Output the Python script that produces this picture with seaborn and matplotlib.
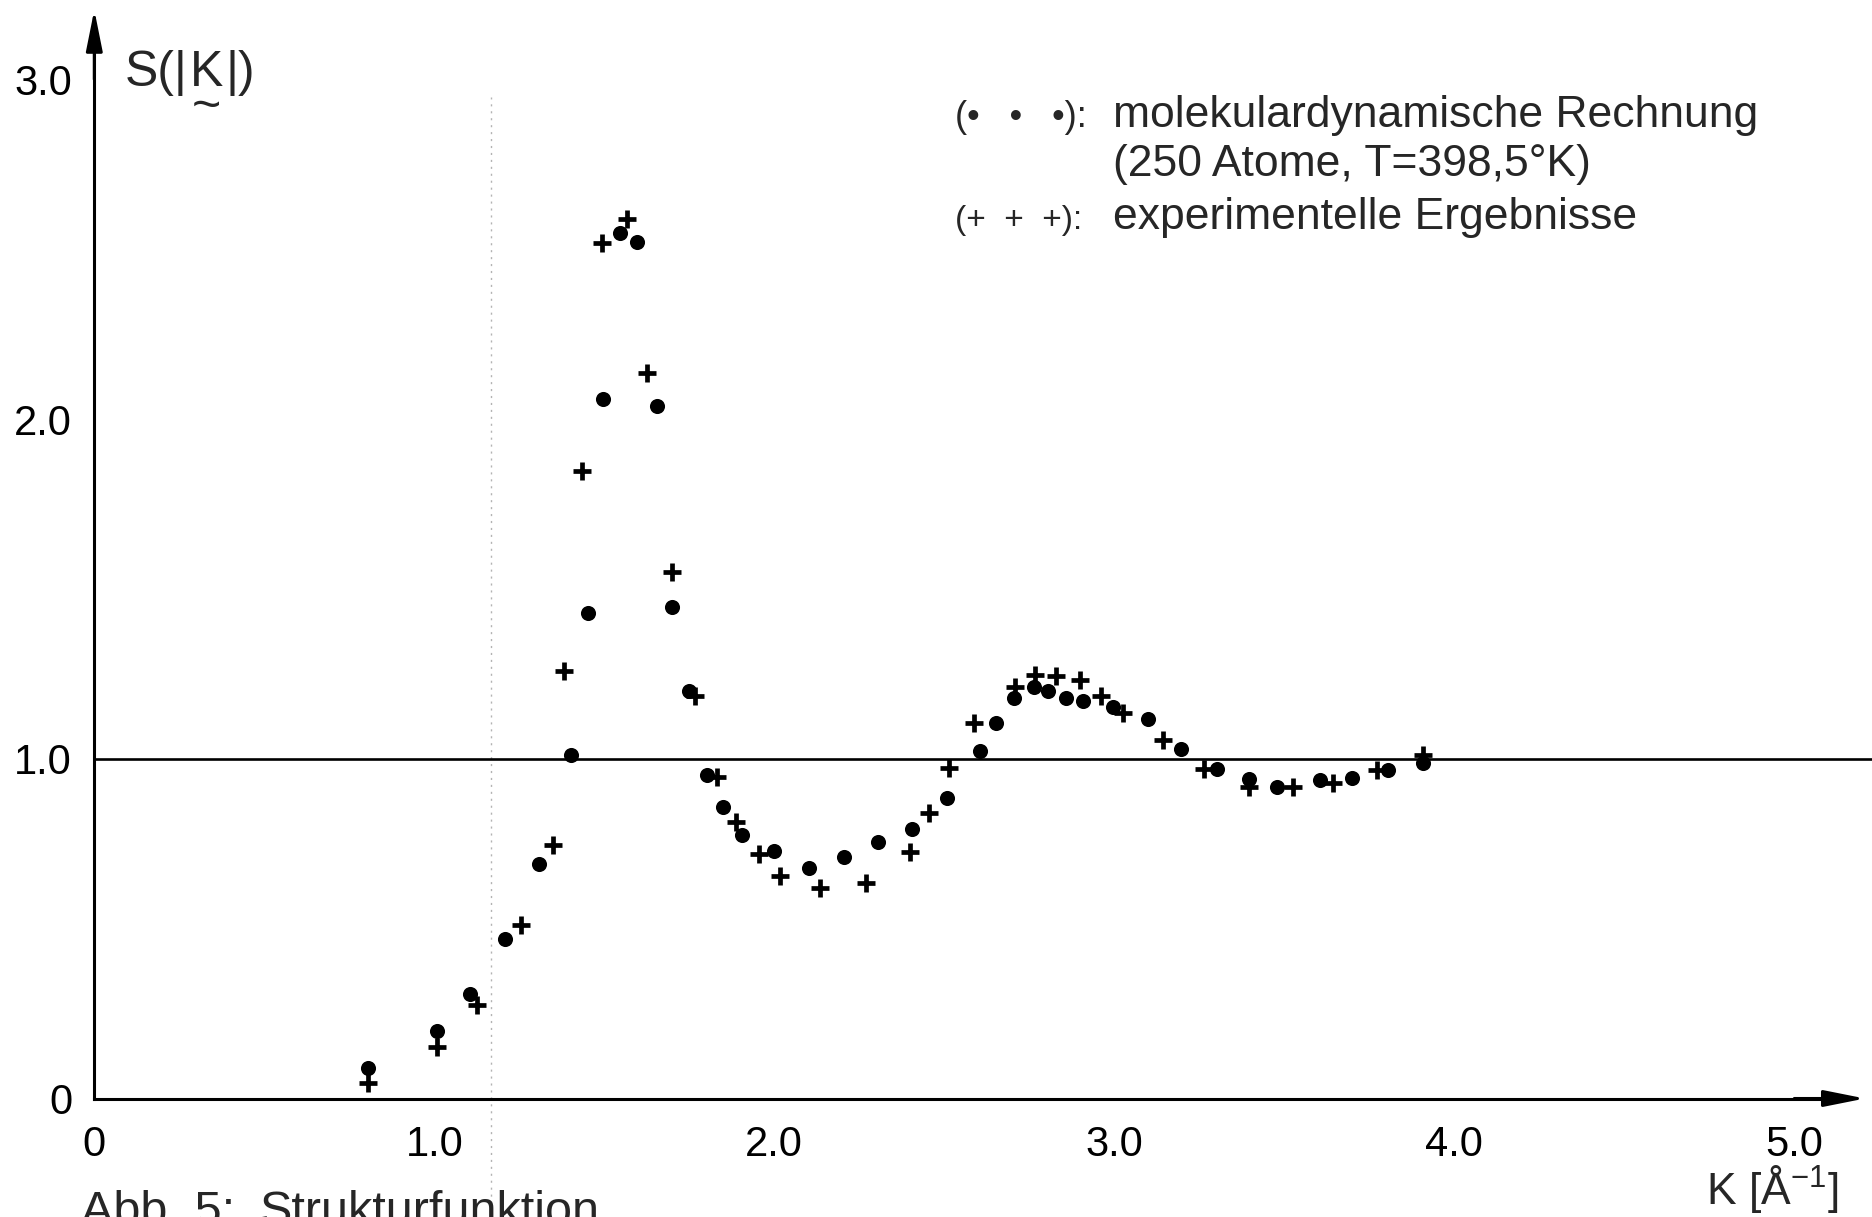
import matplotlib
matplotlib.use("Agg")
import matplotlib.pyplot as plt
import pandas as pd
import seaborn as sns

# Structure function S(|K|): molecular dynamics (250 atoms, T = 398.5 K)
k_md = [0.806, 1.007, 1.105, 1.209, 1.307, 1.401, 1.453, 1.495, 1.546, 1.595,
        1.654, 1.700, 1.750, 1.803, 1.850, 1.904, 2.000, 2.103, 2.206, 2.304,
        2.406, 2.507, 2.605, 2.652, 2.705, 2.763, 2.806, 2.857, 2.909, 2.997,
        3.100, 3.197, 3.301, 3.397, 3.478, 3.605, 3.700, 3.806, 3.907]
s_md = [0.091, 0.200, 0.308, 0.469, 0.691, 1.012, 1.430, 2.058, 2.549, 2.520,
        2.039, 1.446, 1.200, 0.952, 0.857, 0.776, 0.729, 0.679, 0.710, 0.754,
        0.792, 0.884, 1.024, 1.105, 1.178, 1.212, 1.200, 1.178, 1.171, 1.152,
        1.117, 1.029, 0.969, 0.940, 0.918, 0.938, 0.943, 0.967, 0.989]

# Experimental results
k_exp = [0.806, 1.007, 1.126, 1.255, 1.348, 1.382, 1.434, 1.492, 1.566, 1.625,
         1.700, 1.767, 1.831, 1.887, 1.954, 2.017, 2.134, 2.270, 2.399, 2.456,
         2.515, 2.587, 2.708, 2.768, 2.829, 2.899, 2.960, 3.026, 3.144, 3.265,
         3.397, 3.525, 3.644, 3.772, 3.907]
s_exp = [0.046, 0.151, 0.275, 0.510, 0.746, 1.259, 1.848, 2.519, 2.588, 2.137,
         1.549, 1.185, 0.947, 0.815, 0.719, 0.655, 0.621, 0.633, 0.725, 0.840,
         0.974, 1.105, 1.212, 1.247, 1.244, 1.232, 1.185, 1.134, 1.054, 0.969,
         0.918, 0.916, 0.928, 0.967, 1.011]

x_ticks = [0, 1, 2, 3, 4, 5]
x_tick_labels = ["0", "1.0", "2.0", "3.0", "4.0", "5.0"]
y_ticks = [0, 1, 2, 3]
y_tick_labels = ["0", "1.0", "2.0", "3.0"]

sns.set_style("white")
FONT = ["Liberation Sans", "DejaVu Sans"]
plt.rcParams["font.family"] = FONT
plt.rcParams["mathtext.fontset"] = "custom"
plt.rcParams["mathtext.rm"] = "Liberation Sans"
plt.rcParams["mathtext.it"] = "Liberation Sans"

W, H = 1872, 1217
fig = plt.figure(figsize=(W / 100, H / 100), dpi=100)
ax = fig.add_axes([0, 0, 1, 1])

# pixel position of the origin and pixels per unit on each axis
X0, XS = 94.3, 340.0
Y0, YS = 1098.5, 339.7
ax.set_xlim(-X0 / XS, (W - X0) / XS)
ax.set_ylim((Y0 - H) / YS, Y0 / YS)


def px(x, y):
    """Figure-fraction coordinates from pixel coordinates (origin top-left)."""
    return x / W, 1 - y / H


# faint dotted guide line
ax.axvline(1.167, ymin=0.0, ymax=0.92, color="0.7", lw=1.0,
           ls=(0, (1.5, 3.5)), zorder=0)

# reference level S = 1
ax.hlines(1.0, 0, ax.get_xlim()[1], color="black", lw=1.9, zorder=1)

df_md = pd.DataFrame({"K": k_md, "S": s_md})
df_exp = pd.DataFrame({"K": k_exp, "S": s_exp})
sns.scatterplot(data=df_md, x="K", y="S", marker="o", s=118, color="black",
                edgecolor="black", linewidth=0, ax=ax, zorder=3)
sns.scatterplot(data=df_exp, x="K", y="S", marker="+", s=165, color="black",
                linewidth=3.4, ax=ax, zorder=3)
ax.set_xlabel("")
ax.set_ylabel("")

# axes through the origin with arrow heads
for side in ("top", "right"):
    ax.spines[side].set_visible(False)
for side in ("left", "bottom"):
    ax.spines[side].set_position(("data", 0))
    ax.spines[side].set_linewidth(2.2)
    ax.spines[side].set_color("black")
ax.spines["left"].set_bounds(0, 3.1)
ax.spines["bottom"].set_bounds(0, 5.1)
arrow = dict(arrowstyle="-|>,head_length=1.0,head_width=0.2", color="black",
             lw=2.2, shrinkA=0, shrinkB=0, mutation_scale=25)
ax.annotate("", xy=(0, 3.205), xytext=(0, 3.0), arrowprops=arrow)
ax.annotate("", xy=(5.208, 0), xytext=(5.0, 0), arrowprops=arrow)

ax.set_xticks(x_ticks, x_tick_labels)
ax.set_yticks(y_ticks, y_tick_labels)
ax.tick_params(axis="both", direction="out", length=9, width=2, color="black",
               labelsize=30, labelcolor="black")
ax.tick_params(axis="x", pad=10)
ax.tick_params(axis="y", pad=7)
ax.grid(False)

# y-axis label S(|K|) with the vector tilde under K
t1 = fig.text(*px(125, 86), "S(|", fontsize=36, va="baseline", ha="left")
t2 = ax.annotate("K", xy=(1, 0), xycoords=t1, xytext=(1.5, 0),
                 textcoords="offset points", va="bottom", ha="left",
                 fontsize=36)
ax.annotate("|)", xy=(1, 0), xycoords=t2, xytext=(1.5, 0),
            textcoords="offset points", va="bottom", ha="left", fontsize=36)
ax.annotate("~", xy=(0.5, -0.27), xycoords=t2, va="center", ha="center",
            fontsize=36)

# x-axis label
fig.text(*px(1838, 1204), "K [Å$^{-1}$]", fontsize=32, ha="right",
         va="baseline")

# key
fig.text(*px(955, 127), "(•   •   •):", fontsize=26, ha="left", va="baseline")
fig.text(*px(1113, 127), "molekulardynamische Rechnung", fontsize=32,
         ha="left", va="baseline")
fig.text(*px(1113, 176), "(250 Atome, T=398,5°K)", fontsize=32,
         ha="left", va="baseline")
fig.text(*px(955, 229), "(+  +  +):", fontsize=24, ha="left", va="baseline")
fig.text(*px(1113, 229), "experimentelle Ergebnisse", fontsize=32,
         ha="left", va="baseline")

# caption
fig.text(*px(81, 1190), "Abb. 5:", fontsize=35, ha="left", va="top")
fig.text(*px(260, 1190), "Strukturfunktion", fontsize=35, ha="left", va="top")

fig.savefig("out.png", dpi=100, facecolor="white")
